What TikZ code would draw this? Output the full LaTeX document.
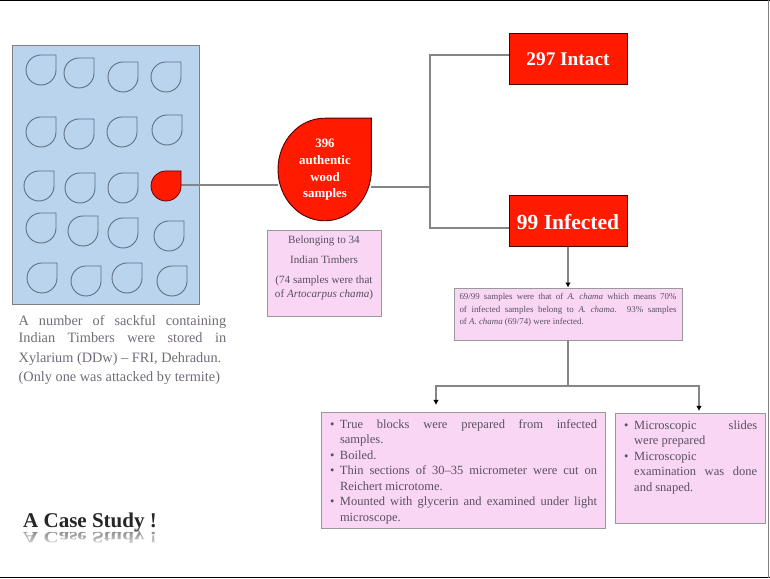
\documentclass[tikz,border=0pt]{standalone}
\usepackage{fontspec}
\setmainfont{Liberation Serif}
\usetikzlibrary{arrows.meta}
\usetikzlibrary{fadings}
\definecolor{sackblue}{HTML}{BAD4EE}
\definecolor{boxpink}{HTML}{F9D6F3}
\definecolor{hotred}{HTML}{FF1A00}
\definecolor{linegray}{HTML}{858585}
\definecolor{sackedge}{HTML}{5F6F80}
\definecolor{softink}{HTML}{5A5060}
\newcommand{\bulletrow}[1]{\par\hangindent=10pt\hangafter=1\noindent\hbox to 10pt{\textbullet\hfil}#1\par}
\begin{document}
\begin{tikzpicture} [
        x=1pt, y=1pt,
        pics/sackdrop/.style 2 args={code={
            \draw[pic actions] (0,#2) arc[start angle=90, end angle=360, x radius=#1, y radius=#2] -- (#1,#2) -- cycle;
        }},
        redbox/.style={draw=black!70!red, fill=hotred, text=white, inner sep=0pt},
        pinkbox/.style={draw=gray!80, line width=0.8pt, fill=boxpink, text=softink, inner sep=0pt},
        link/.style={draw=linegray, line width=1.2pt},
        tip/.style={-{Latex[black,length=5pt,width=5.5pt]}},
        plaintext/.style={text=softink!85, inner sep=0pt, align=justify, font=\fontsize{14.3}{17}\selectfont} ]
    % page frame and background of sacks
    \useasboundingbox (0,0) rectangle (770,578);
    \draw[black, line width=1.2pt] (0,0.8) -- (770,0.8);
    \draw[black, line width=1.2pt] (0,577.5) -- (770,577.5);
    \draw[gray, line width=1.6pt] (768.6,578) -- (768.6,0);
    \node[draw=gray, line width=0.8pt, fill=sackblue, minimum width=186.5pt, minimum height=258.5pt, inner sep=0pt] (rack) at (105.7,403) {};

    % red boxes
    \node[redbox, minimum width=118pt, minimum height=51pt, text depth=0pt, font=\bfseries\fontsize{19.3}{24}\selectfont] (intact) at (568,519) {\raisebox{-1pt}{297 Intact}};
    \node[redbox, minimum width=118pt, minimum height=51pt, text depth=0pt, font=\bfseries\fontsize{21.5}{28}\selectfont] (infected) at (568,357) {\raisebox{-1pt}{99 Infected}};

    % pink boxes
    \node[pinkbox, minimum width=114pt, minimum height=86pt, font=\fontsize{11.1}{20}\selectfont, align=center] (timbers) at (324,305)
        {Belonging to 34\\Indian Timbers\\(74 samples were that\\[-6pt]of \textit{Artocarpus chama})\rule[-13pt]{0pt}{0pt}};
    \node[pinkbox, minimum width=228pt, minimum height=52pt, text width=217pt, align=justify, font=\fontsize{8.9}{12.4}\selectfont] (share) at (568,264)
        {69/99 samples were that of \textit{A. chama} which means 70\%\linebreak of infected samples belong to \textit{A. chama.} 93\% samples\linebreak of \textit{A. chama} (69/74) were infected.\par\vspace{8pt}};
    \node[pinkbox, minimum width=284.5pt, minimum height=116pt, text width=267pt, align=justify, font=\fontsize{12.5}{15.5}\selectfont] (blocks) at (463.5,108) {%
        \bulletrow{True blocks were prepared from infected\linebreak samples.}%
        \bulletrow{Boiled.}%
        \bulletrow{Thin sections of 30--35 micrometer were cut on\linebreak Reichert microtome.}%
        \bulletrow{Mounted with glycerin and examined under light\linebreak microscope.}\vspace{3pt}};
    \node[pinkbox, minimum width=150pt, minimum height=110pt, text width=133pt, align=justify, font=\fontsize{12.5}{15.5}\selectfont] (slides) at (690.7,110) {%
        \bulletrow{Microscopic slides\linebreak were prepared}%
        \bulletrow{Microscopic\newline examination was done\linebreak and snaped.}\vspace{28pt}};

    % connectors
    \coordinate (badout) at (181,393);
    \coordinate (bigin) at (278,393);
    \coordinate (bigout) at (371,391);
    \coordinate (fork) at (430,391);
    \coordinate (split) at (568,192);
    \coordinate (blockstip) at (436,173);
    \coordinate (slidestip) at (699,167);
    \draw[link] (badout) -- (bigin);
    \draw[link] (bigout) -- (fork);
    \draw[link] ([yshift=4pt]intact.west) -| (fork) |- ([yshift=-7pt]infected.west);
    \draw[link, tip] (infected.south) -- (share.north);
    \draw[link] (share.south) -- (split);
    \draw[link, tip] (split) -| (blockstip);
    \draw[link, tip] (split) -| (slidestip);

    % sacks on the rack
    \foreach \i/\xx/\yy in {a/41/508, b/79/505, c/123/501, d/166/501,
                            e/41/446, f/79/444, g/122/446, h/167/448,
                            i/39/392, j/80/390, k/123/390,
                            l/41/350, m/83/347, n/123/345, o/169/342,
                            p/42/300, q/86/297, r/127/300, s/172/297}
        \pic[draw=sackedge, line width=0.9pt] (\i) at (\xx,\yy) {sackdrop={15}{15}};
    \pic[draw=black!60!red, line width=0.8pt, fill=hotred] (bad) at (166,392) {sackdrop={15}{15}};

    % big sample drop
    \pic[draw=black!70!red, line width=0.9pt, fill=hotred] (big) at (324.7,408.5) {sackdrop={46.7}{51.3}};
    \node[text=white, align=center, font=\bfseries\fontsize{12.9}{16.7}\selectfont, inner sep=0pt] (samples) at (325,408) {396\\authentic\\wood\\samples};

    % text on the left
    \node[plaintext, text width=207.5pt, anchor=north west] (rackinfo) at (18.5,263)
        {A number of sackful containing\linebreak Indian Timbers were stored in\linebreak
         \rule{0pt}{19pt}Xylarium (DDw) -- FRI, Dehradun.\newline\rule{0pt}{15.5pt}(Only one was attacked by termite)};

    % title with mirror image
    \node[inner sep=0pt, anchor=west, font=\bfseries\fontsize{21}{24}\selectfont, text=black!85] (title) at (23,56) {A Case Study !};
    \node[inner sep=0pt, anchor=west, yscale=-0.75, font=\bfseries\fontsize{21}{24}\selectfont, text=black!45] (mirror) at (23,41.5) {A Case Study !};
    \fill[white, path fading=north] (20,46.5) rectangle (165,28);
    \end{tikzpicture}
\end{document}
